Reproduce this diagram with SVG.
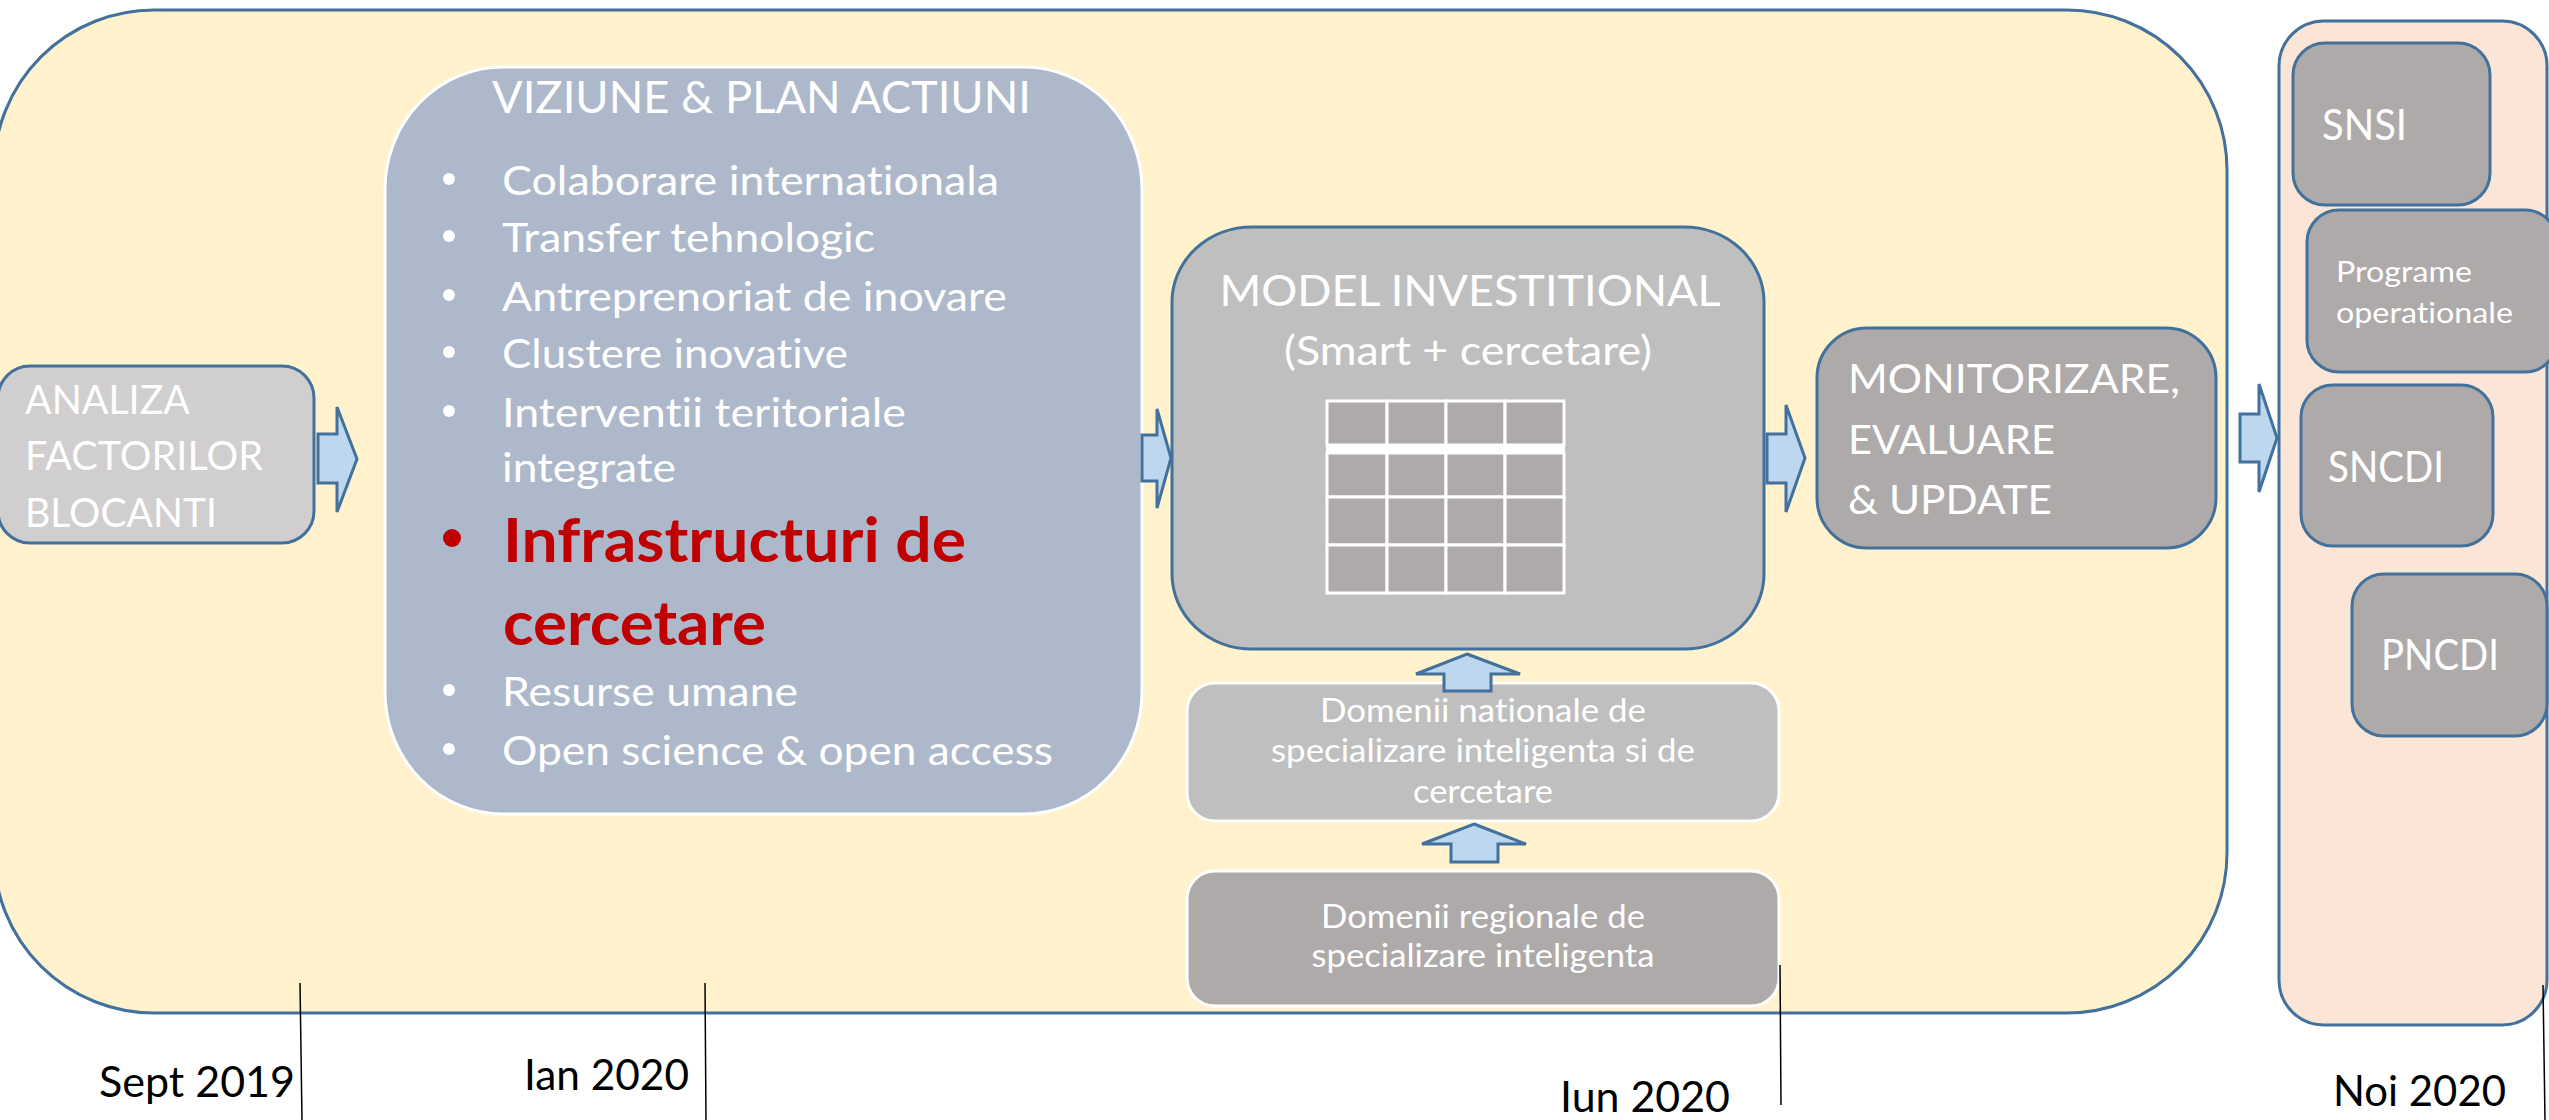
<svg xmlns="http://www.w3.org/2000/svg" width="2549" height="1120" viewBox="0 0 2549 1120">
<style>
text{font-variant-ligatures:none;font-feature-settings:"liga" 0,"clig" 0,"dlig" 0}
.t{font-family:Lato,"Open Sans",sans-serif;fill:#fff}
.blue{stroke:#41719C;stroke-width:3}
.wht{stroke:#fff;stroke-width:3}
.arr{fill:#BDD7EE;stroke:#41719C;stroke-width:3;stroke-linejoin:miter}
.tl{stroke:#000;stroke-width:1.5;fill:none}
.date{font-family:Lato,"Open Sans",sans-serif;fill:#000;font-size:42px}
.cell{fill:#AEAAAA;stroke:#fff;stroke-width:3}
.red{font-family:Lato,"Open Sans",sans-serif;font-weight:bold;fill:#C00000;font-size:61px}
</style>
<rect width="2549" height="1120" fill="#fff"/>
<g id="phase-main"><rect x="-6" y="10" width="2233" height="1003" rx="160" ry="160" fill="#FFF2CC" class="blue"/></g>
<g id="phase-final"><rect x="2279" y="21" width="268" height="1004" rx="45" ry="45" fill="#FBE5D6" class="blue"/></g>

<g id="analiza">
<rect x="-2" y="366" width="316" height="177" rx="32" fill="#D0CECE" class="blue"/>
<text class="t" font-size="41" x="25" y="414" textLength="165" lengthAdjust="spacingAndGlyphs">ANALIZA</text>
<text class="t" font-size="41" x="25" y="470" textLength="238" lengthAdjust="spacingAndGlyphs">FACTORILOR</text>
<text class="t" font-size="41" x="25" y="527" textLength="192" lengthAdjust="spacingAndGlyphs">BLOCANTI</text>
</g>

<g id="viziune">
<rect x="385" y="67" width="757" height="747" rx="118" ry="122" fill="#ADB9CA" class="wht"/>
<text class="t" font-size="45" x="492" y="113" textLength="539" lengthAdjust="spacingAndGlyphs">VIZIUNE &amp; PLAN ACTIUNI</text>
<g class="t" font-size="41">
<circle cx="449" cy="179" r="6" fill="#fff"/>
<text x="502" y="195" textLength="497" lengthAdjust="spacingAndGlyphs">Colaborare internationala</text>
<circle cx="449" cy="236" r="6" fill="#fff"/>
<text x="502" y="252" textLength="373" lengthAdjust="spacingAndGlyphs">Transfer tehnologic</text>
<circle cx="449" cy="295" r="6" fill="#fff"/>
<text x="502" y="311" textLength="505" lengthAdjust="spacingAndGlyphs">Antreprenoriat de inovare</text>
<circle cx="449" cy="352" r="6" fill="#fff"/>
<text x="502" y="368" textLength="346" lengthAdjust="spacingAndGlyphs">Clustere inovative</text>
<circle cx="449" cy="411" r="6" fill="#fff"/>
<text x="502" y="427" textLength="404" lengthAdjust="spacingAndGlyphs">Interventii teritoriale</text>
<text x="502" y="482" textLength="174" lengthAdjust="spacingAndGlyphs">integrate</text>
<circle cx="449" cy="690" r="6" fill="#fff"/>
<text x="502" y="706" textLength="296" lengthAdjust="spacingAndGlyphs">Resurse umane</text>
<circle cx="449" cy="749" r="6" fill="#fff"/>
<text x="502" y="765" textLength="551" lengthAdjust="spacingAndGlyphs">Open science &amp; open access</text>
</g>
<circle cx="452" cy="538" r="9" fill="#C00000"/>
<text class="red" x="503" y="562" textLength="463" lengthAdjust="spacingAndGlyphs">Infrastructuri de</text>
<text class="red" x="503" y="645" textLength="263" lengthAdjust="spacingAndGlyphs">cercetare</text>
</g>

<g id="model">
<rect x="1172" y="227" width="592" height="422" rx="80" ry="75" fill="#BFBFBF" class="blue"/>
<text class="t" font-size="43" x="1470" y="306" text-anchor="middle" textLength="501" lengthAdjust="spacingAndGlyphs">MODEL INVESTITIONAL</text>
<text class="t" font-size="40" x="1468" y="365" text-anchor="middle" textLength="368" lengthAdjust="spacingAndGlyphs">(Smart + cercetare)</text>
<g id="grid">
<rect class="cell" x="1327" y="401" width="60" height="44"/>
<rect class="cell" x="1387" y="401" width="59" height="44"/>
<rect class="cell" x="1446" y="401" width="59" height="44"/>
<rect class="cell" x="1505" y="401" width="59" height="44"/>
<rect class="cell" x="1327" y="453" width="60" height="44"/>
<rect class="cell" x="1387" y="453" width="59" height="44"/>
<rect class="cell" x="1446" y="453" width="59" height="44"/>
<rect class="cell" x="1505" y="453" width="59" height="44"/>
<rect class="cell" x="1327" y="497" width="60" height="48"/>
<rect class="cell" x="1387" y="497" width="59" height="48"/>
<rect class="cell" x="1446" y="497" width="59" height="48"/>
<rect class="cell" x="1505" y="497" width="59" height="48"/>
<rect class="cell" x="1327" y="545" width="60" height="48"/>
<rect class="cell" x="1387" y="545" width="59" height="48"/>
<rect class="cell" x="1446" y="545" width="59" height="48"/>
<rect class="cell" x="1505" y="545" width="59" height="48"/>
<rect x="1326" y="445" width="239" height="8" fill="#fff"/>
</g>
</g>

<g id="monitorizare">
<rect x="1817" y="328" width="399" height="220" rx="50" fill="#AEAAAA" class="blue"/>
<text class="t" font-size="41" x="1848" y="393" textLength="332" lengthAdjust="spacingAndGlyphs">MONITORIZARE,</text>
<text class="t" font-size="41" x="1848" y="454" textLength="207" lengthAdjust="spacingAndGlyphs">EVALUARE</text>
<text class="t" font-size="41" x="1848" y="514" textLength="204" lengthAdjust="spacingAndGlyphs">&amp; UPDATE</text>
</g>

<g id="domenii-nationale">
<rect x="1187" y="683" width="592" height="138" rx="28" fill="#BFBFBF" class="wht"/>
<text class="t" font-size="32" x="1483" y="722" text-anchor="middle" textLength="326" lengthAdjust="spacingAndGlyphs">Domenii nationale de</text>
<text class="t" font-size="32" x="1483" y="762" text-anchor="middle" textLength="424" lengthAdjust="spacingAndGlyphs">specializare inteligenta si de</text>
<text class="t" font-size="32" x="1483" y="803" text-anchor="middle" textLength="140" lengthAdjust="spacingAndGlyphs">cercetare</text>
</g>

<g id="domenii-regionale">
<rect x="1187" y="871" width="592" height="135" rx="28" fill="#AEAAAA" class="wht"/>
<text class="t" font-size="32" x="1483" y="928" text-anchor="middle" textLength="324" lengthAdjust="spacingAndGlyphs">Domenii regionale de</text>
<text class="t" font-size="32" x="1483" y="967" text-anchor="middle" textLength="343" lengthAdjust="spacingAndGlyphs">specializare inteligenta</text>
</g>

<g id="snsi">
<rect x="2293" y="43" width="197" height="162" rx="32" fill="#AEAAAA" class="blue"/>
<text class="t" font-size="42" x="2322" y="140" textLength="85" lengthAdjust="spacingAndGlyphs">SNSI</text>
</g>
<g id="programe">
<rect x="2307" y="210" width="250" height="162" rx="32" fill="#AEAAAA" class="blue"/>
<text class="t" font-size="28" x="2336" y="282" textLength="136" lengthAdjust="spacingAndGlyphs">Programe</text>
<text class="t" font-size="28" x="2336" y="323" textLength="177" lengthAdjust="spacingAndGlyphs">operationale</text>
</g>
<g id="sncdi">
<rect x="2301" y="385" width="192" height="161" rx="32" fill="#AEAAAA" class="blue"/>
<text class="t" font-size="42" x="2328" y="482" textLength="116" lengthAdjust="spacingAndGlyphs">SNCDI</text>
</g>
<g id="pncdi">
<rect x="2352" y="574" width="195" height="162" rx="32" fill="#AEAAAA" class="blue"/>
<text class="t" font-size="42" x="2381" y="670" textLength="118" lengthAdjust="spacingAndGlyphs">PNCDI</text>
</g>

<g id="connectors">
<polygon class="arr" points="318,434 337,434 337,407 357,459 337,512 337,483 318,483"/>
<polygon class="arr" points="1142,435 1157,435 1157,409 1171,458 1157,508 1157,481 1142,481"/>
<polygon class="arr" points="1767,434 1786,434 1786,405 1805,458 1786,512 1786,483 1767,483"/>
<polygon class="arr" points="2240,414 2259,414 2259,384 2277,438 2259,492 2259,462 2240,462"/>
<polygon class="arr" points="1467,654 1520,674 1491,674 1491,691 1444,691 1444,674 1416,674"/>
<polygon class="arr" points="1474,824 1526,844 1498,844 1498,862 1451,862 1451,844 1422,844"/>
</g>

<g id="timeline">
<line class="tl" x1="300" y1="983" x2="302" y2="1120"/>
<line class="tl" x1="705" y1="983" x2="706" y2="1120"/>
<line class="tl" x1="1780" y1="965" x2="1781" y2="1105"/>
<line class="tl" x1="2543" y1="985" x2="2545" y2="1120"/>
<text class="date" x="99" y="1097" textLength="196" lengthAdjust="spacingAndGlyphs">Sept 2019</text>
<text class="date" x="524" y="1090" textLength="165" lengthAdjust="spacingAndGlyphs">Ian 2020</text>
<text class="date" x="1560" y="1112" textLength="170" lengthAdjust="spacingAndGlyphs">Iun 2020</text>
<text class="date" x="2333" y="1106" textLength="173" lengthAdjust="spacingAndGlyphs">Noi 2020</text>
</g>
</svg>
